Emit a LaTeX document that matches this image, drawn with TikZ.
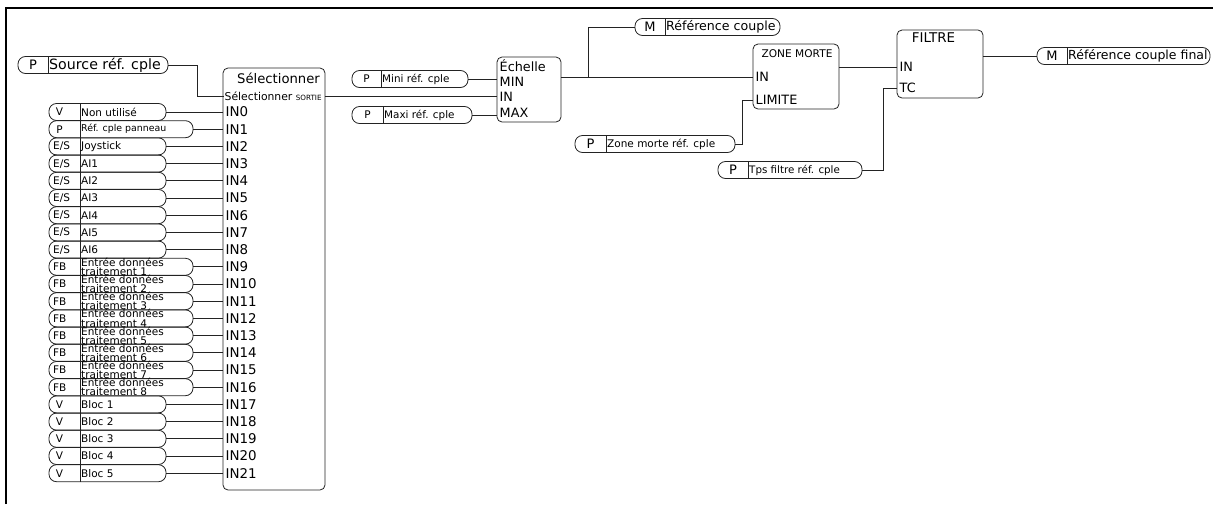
\documentclass[tikz,border=0pt]{standalone}
\usepackage{fontspec}
\setmainfont{DejaVu Sans}
\usetikzlibrary{positioning}
\definecolor{wire-gray}{RGB}{35,35,35}

% pill: [extra styles]{name}{left x}{right x}{divider x}{y}{tag}{text}
\newcommand{\pill}[8][]{%
  \begin{scope}[#1]
    \node[pill, minimum width={#4-#3}] (#2) at ({(#3+#4)/2},#6) {};
    \draw[wire] (#5,{#6-8.5}) -- (#5,{#6+8.5});
    \node[tag] at ({(#3+#5)/2},#6) {#7};
    \node[pilltext] at (#5,#6) {#8};
  \end{scope}}

\begin{document}
\begin{tikzpicture}[x=1pt, y=-1pt,
    wire/.style = {draw=wire-gray, line width=0.8pt},
    frame/.style = {draw=black, line width=1.3pt},
    pill/.style = {rectangle, rounded corners=7.5pt, draw=wire-gray,
                   line width=0.8pt, minimum height=17, inner sep=0pt},
    tag/.style = {inner sep=0pt, font=\fontsize{10.5}{10.5}\selectfont},
    pilltext/.style = {anchor=west, inner sep=1pt, align=left,
                       font=\fontsize{10.5}{7.6}\selectfont},
    block/.style = {rectangle, rounded corners=5pt, draw=wire-gray,
                    line width=0.8pt, inner sep=0pt},
    port/.style = {anchor=west, inner sep=0.5pt,
                   font=\fontsize{13.4}{13.4}\selectfont},
    big/.style = {tag/.append style={font=\fontsize{13}{13}\selectfont}}
  ]
    \useasboundingbox (0,0) rectangle (1213,504);
    \draw[frame] (6,504) -- (6,8) -- (1213,8);

    %% ---- Selector block ----
    \node[block, minimum width=102, minimum height=422] (sel) at (274,279) {};
    \node[inner sep=0pt, font=\fontsize{13.2}{13.2}\selectfont] (seltitle)
      at (278.5,78) {Sélectionner};
    \node[anchor=west, inner sep=0.5pt, font=\fontsize{10.8}{10.8}\selectfont]
      (sortie) at (224,96)
      {Sélectionner {\fontsize{7.2}{7.2}\selectfont SORTIE}};

    \pill[big, pilltext/.append style={font=\fontsize{14.2}{14.2}\selectfont}]
      {src}{18}{168}{48}{65}{P}{Source réf. cple}
    \draw[wire] (src.east) -- ++(29,0) |- (sortie.west);

    %% ---- Selector inputs IN0..IN21 ----
    \foreach \tg/\txt/\xr [count=\i from 0] in {
        V/Non utilisé/166,
        P/{\fontsize{9.4}{9.4}\selectfont Réf. cple panneau}/193,
        {E/S}/Joystick/166, {E/S}/AI1/166, {E/S}/AI2/166, {E/S}/AI3/166,
        {E/S}/AI4/166, {E/S}/AI5/166, {E/S}/AI6/166,
        FB/{Entrée données\\traitement 1}/193,
        FB/{Entrée données\\traitement 2}/193,
        FB/{Entrée données\\traitement 3}/193,
        FB/{Entrée données\\traitement 4}/193,
        FB/{Entrée données\\traitement 5}/193,
        FB/{Entrée données\\traitement 6}/193,
        FB/{Entrée données\\traitement 7}/193,
        FB/{Entrée données\\traitement 8}/193,
        V/Bloc 1/166, V/Bloc 2/166, V/Bloc 3/166, V/Bloc 4/166, V/Bloc 5/166} {
      \pgfmathsetmacro\yy{112+17.2*\i}
      \pill[tag/.append style={anchor=west}]
        {in\i}{49}{\xr}{80}{\yy}{\hspace*{-11.5pt}\tg}{\txt}
      \node[port] (p\i) at (225,\yy) {IN\i};
      \draw[wire] (in\i.east) -- (in\i.east -| sel.west);
    }

    %% ---- Scale block ----
    \node[block, minimum width=64, minimum height=65] (scale) at (529,89.5) {};
    \node[port, font=\fontsize{12.8}{12.8}\selectfont] (scname)
      at (499,66) {Échelle};
    \node[port, font=\fontsize{12.8}{12.8}\selectfont] (scmin)
      at (499,82) {MIN};
    \node[port, font=\fontsize{12.8}{12.8}\selectfont] (scin)
      at (499,97) {IN};
    \node[port, font=\fontsize{12.8}{12.8}\selectfont] (scmax)
      at (499,113) {MAX};
    \draw[wire] (sortie -| sel.east) -- (sortie -| scale.west);

    \pill[pilltext/.append style={font=\fontsize{10.4}{10.4}\selectfont}]
      {mini}{352}{468}{381}{79}{P}{Mini réf. cple}
    \pill[pilltext/.append style={font=\fontsize{10.4}{10.4}\selectfont}]
      {maxi}{352}{472}{383}{115}{P}{Maxi réf. cple}
    \draw[wire] (mini.east) -- (mini.east -| scale.west);
    \draw[wire] (maxi.east) -- (maxi.east -| scale.west);

    %% ---- Dead zone block ----
    \node[block, minimum width=86, minimum height=65] (zm) at (796,76.5) {};
    \node[inner sep=0pt, font=\fontsize{10.6}{10.6}\selectfont] (zmname)
      at (797,54) {ZONE MORTE};
    \node[port, font=\fontsize{12.8}{12.8}\selectfont] (zmin)
      at (755,77) {IN};
    \node[port, font=\fontsize{12.8}{12.8}\selectfont] (zmlim)
      at (755,100) {LIMITE};
    \draw[wire] (zmin -| scale.east) -- (zmin -| zm.west);
    \coordinate (tap) at (588,77);

    \pill[big, pilltext/.append style={font=\fontsize{12.6}{12.6}\selectfont}]
      {ref}{635}{780}{665}{27}{M}{Référence couple}
    \draw[wire] (tap) |- (ref.west);

    \pill[big, pilltext/.append style={font=\fontsize{10.5}{10.5}\selectfont}]
      {zmp}{575}{735}{606}{144}{P}{Zone morte réf. cple}
    \draw[wire] (zmp.east) -- ++(7,0) |- (zmlim -| zm.west);

    %% ---- Filter block ----
    \node[block, minimum width=86, minimum height=68] (flt) at (940,64) {};
    \node[inner sep=0pt, font=\fontsize{13.4}{13.4}\selectfont] (fltname)
      at (933.5,38) {FILTRE};
    \node[port, font=\fontsize{12.8}{12.8}\selectfont] (fin)
      at (899,67) {IN};
    \node[port, font=\fontsize{12.8}{12.8}\selectfont] (ftc)
      at (899,88) {TC};
    \draw[wire] (fin -| zm.east) -- (fin -| flt.west);

    \pill[big, pilltext/.append style={font=\fontsize{10.3}{10.3}\selectfont}]
      {tps}{718}{862}{748}{170}{P}{Tps filtre réf. cple}
    \draw[wire] (tps.east) -- ++(21,0) |- (ftc -| flt.west);

    \pill[big, pilltext/.append style={font=\fontsize{12.5}{12.5}\selectfont}]
      {final}{1037}{1210}{1067}{56}{M}{Référence couple final}
    \draw[wire] (final.west -| flt.east) -- (final.west);

  \end{tikzpicture}
\end{document}
